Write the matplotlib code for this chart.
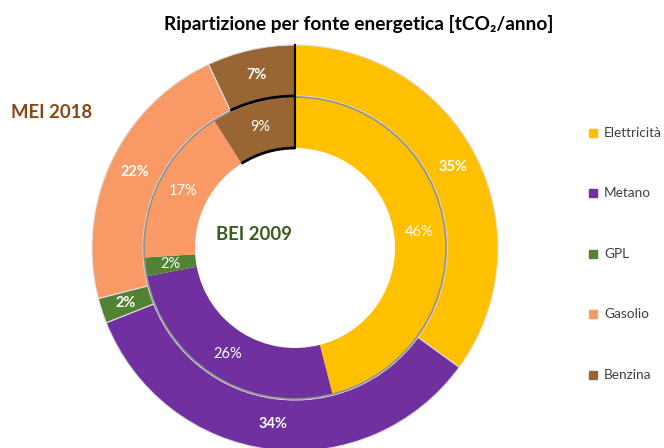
import numpy as np
import matplotlib
matplotlib.use("Agg")
import matplotlib.pyplot as plt
from matplotlib.patches import Arc, Circle

plt.rcParams['font.family'] = ['Lato', 'DejaVu Sans']

# data
fonti = ['Elettricità', 'Metano', 'GPL', 'Gasolio', 'Benzina']
mei_2018 = [35, 34, 2, 22, 7]
bei_2009 = [46, 26, 2, 17, 9]
colori = ['#FFC000', '#7030A0', '#548235', '#F99966', '#996633']

fig = plt.figure(figsize=(6.64, 4.48), dpi=100)
ax = fig.add_axes([0, 0, 1, 1])

cx, cy = 295, 200
r_out, r_in, w = 203, 151, 51

# outer ring - MEI 2018
w_out, t_out, a_out = ax.pie(mei_2018, colors=colori, radius=r_out, center=(cx, cy),
                             startangle=90, counterclock=False, autopct='%.0f%%',
                             pctdistance=(r_out - w / 2) / r_out,
                             wedgeprops=dict(width=w, edgecolor='#e0e0e0', linewidth=0.8),
                             textprops=dict(color='white', fontsize=10.5, fontweight='bold'),
                             frame=True)
# inner ring - BEI 2009
w_in, t_in, a_in = ax.pie(bei_2009, colors=colori, radius=r_in, center=(cx, cy),
                          startangle=90, counterclock=False, autopct='%.0f%%',
                          pctdistance=(r_in - w / 2) / r_in,
                          wedgeprops=dict(width=w, edgecolor='none', linewidth=0),
                          textprops=dict(color='white', fontsize=10.5),
                          frame=True)
ax.set_xlim(0, 664)
ax.set_ylim(0, 448)
ax.set_aspect('equal')
ax.axis('off')

ax.add_patch(Circle((cx, cy), r_in, fill=False, edgecolor='#909090', linewidth=1.2, zorder=3))

# black highlight on Benzina slices
for wd in [w_out[-1], w_in[-1]]:
    r0 = wd.r - wd.width
    ang = np.deg2rad(wd.theta1)
    ax.plot([cx + r0 * np.cos(ang), cx + wd.r * np.cos(ang)],
            [cy + r0 * np.sin(ang), cy + wd.r * np.sin(ang)], color='black', lw=1.5, zorder=4)
    ax.add_patch(Arc((cx, cy), 2 * r0, 2 * r0, theta1=wd.theta1, theta2=wd.theta2,
                     color='black', lw=2, zorder=4))

fig.text(359 / 664, 1 - 24 / 448, 'Ripartizione per fonte energetica [tCO₂/anno]',
         ha='center', va='center', fontsize=13.8, fontweight='bold', color='black')
fig.text(52 / 664, 1 - 112 / 448, 'MEI 2018', ha='center', va='center',
         fontsize=13.3, fontweight='bold', color='#8B4513')
fig.text(254 / 664, 1 - 234 / 448, 'BEI 2009', ha='center', va='center',
         fontsize=13.3, fontweight='bold', color='#3A5A22')

# legend
leg_y = [133, 193, 254, 314, 375]
for f, c, y in zip(fonti, colori, leg_y):
    ax.add_patch(plt.Rectangle((589, 448 - y - 4), 8, 8, color=c))
    ax.text(604, 448 - y, f, va='center', ha='left', fontsize=9.8, color='#404040')

fig.savefig('out.png', dpi=100)
